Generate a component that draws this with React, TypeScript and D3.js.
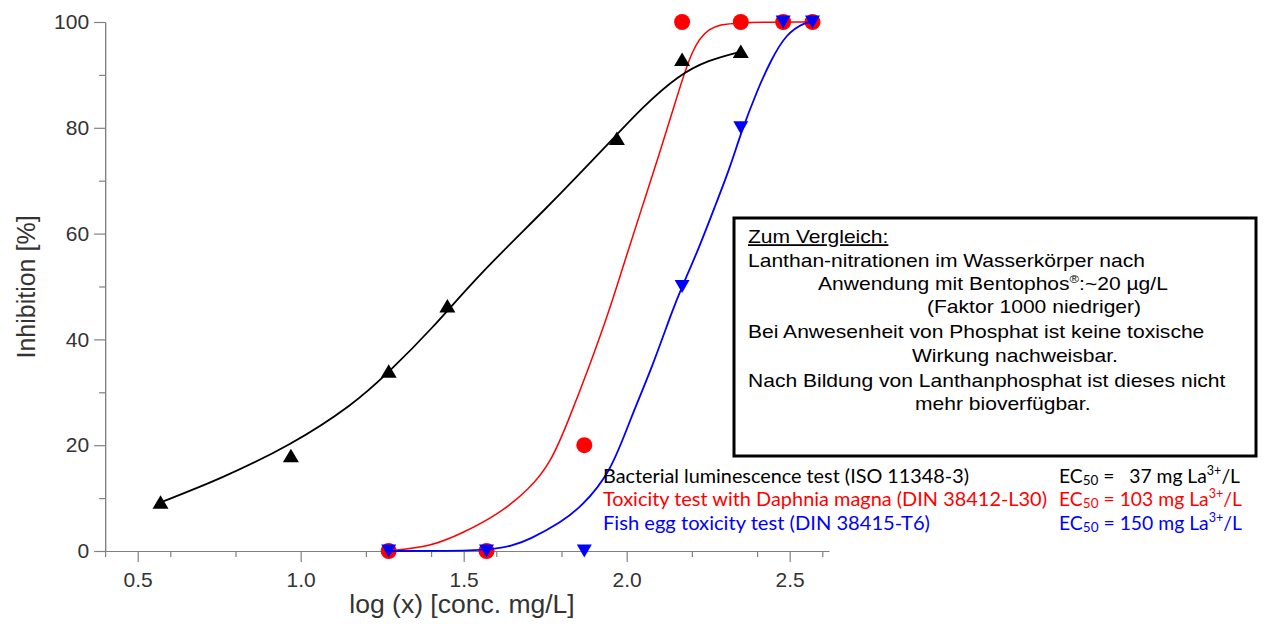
import React, { useEffect, useRef } from 'react';
import * as d3 from 'd3';

// measured points, x = log10(conc. mg/L), y = inhibition %
const bactX = [0.57, 0.97, 1.27, 1.45, 1.97, 2.17, 2.35];
const bactY = [9.2, 18, 34, 46.3, 78, 92.9, 94.4];
const daphX = [1.27, 1.57, 1.87, 2.17, 2.35, 2.48, 2.57];
const daphY = [0, 0, 20, 100, 100, 100, 100];
const fishX = [1.27, 1.57, 1.87, 2.17, 2.35, 2.48, 2.57];
const fishY = [0, 0, 0, 50, 80, 100, 100];

// fitted curves
const bactFitX = [0.57, 0.75, 0.97, 1.16, 1.27, 1.4, 1.55, 1.75, 1.95, 2.05, 2.16, 2.25, 2.35];
const bactFitY = [9.2, 13.5, 20, 27.6, 33.8, 41.8, 52.5, 64.5, 77.4, 84, 90, 92.8, 94.4];
const daphFitX = [1.27, 1.4, 1.5, 1.6, 1.7, 1.77, 1.82, 1.88, 1.95, 2.0, 2.05, 2.1, 2.15, 2.2, 2.25, 2.32, 2.57];
const daphFitY = [0, 0.8, 3.5, 6.7, 11.5, 17, 24.5, 34, 46, 56, 65.5, 75, 85, 95, 99, 100, 100];
const fishFitX = [1.27, 1.57, 1.65, 1.7, 1.8, 1.86, 1.95, 2.01, 2.08, 2.14, 2.17, 2.22, 2.27, 2.32, 2.35, 2.4, 2.44, 2.49, 2.55, 2.57];
const fishFitY = [0, 0, 1, 2.1, 5.5, 8.3, 14.7, 24.8, 35, 45.5, 50, 57, 65, 73, 79, 87, 92.5, 97.9, 100, 100];

const xMajor = [0.5, 1.0, 1.5, 2.0, 2.5];
const xMinor = [0.4, 0.6, 0.8, 1.2, 1.4, 1.6, 1.8, 2.2, 2.4, 2.6];
const yMajor = [0, 20, 40, 60, 80, 100];
const yMinor = [10, 30, 50, 70, 90];

const legendNames = [
  'Bacterial luminescence test (ISO 11348-3)',
  'Toxicity test with Daphnia magna (DIN 38412-L30)',
  'Fish egg toxicity test (DIN 38415-T6)',
];
const legendEC = ['  37', '103', '150'];
const legendColors = ['#000000', '#ff0000', '#0000ff'];
const legendWidths = [366, 444, 327];

const noteLines = [
  'Lanthan-nitrationen im Wasserkörper nach',
  'Anwendung mit Bentophos',
  '(Faktor 1000 niedriger)',
  'Bei Anwesenheit von Phosphat ist keine toxische',
  'Wirkung nachweisbar.',
  'Nach Bildung von Lanthanphosphat ist dieses nicht',
  'mehr bioverfügbar.',
];
const noteLeft = [748, 818, 927, 748, 912, 748, 915];
const noteBase = [266.7, 290, 313.3, 338.3, 361.7, 386.7, 410];

const x = d3.scaleLinear().domain([0.4, 2.62]).range([105.1, 828.8]);
const y = d3.scaleLinear().domain([0, 100]).range([551, 22]);

const line = d3
  .line<[number, number]>()
  .x(d => x(d[0]))
  .y(d => y(d[1]))
  .curve(d3.curveBasis);

const zip = (a: number[], b: number[]) => a.map((v, i) => [v, b[i]] as [number, number]);

const triUp = 'M0,-7L8,6.5L-8,6.5Z';
const triDown = 'M0,6.5L7.5,-6.5L-7.5,-6.5Z';

const FONT = 'Liberation Sans, Arial, sans-serif';

export default function App() {
  const axRef = useRef<SVGGElement>(null);

  useEffect(() => {
    const g = d3.select(axRef.current);
    g.selectAll('*').remove();

    const style = (sel: d3.Selection<any, any, any, any>) => {
      sel.select('.domain').attr('stroke', '#808080').attr('stroke-width', 1.2);
      sel.selectAll('.tick line').attr('stroke', '#808080').attr('stroke-width', 1.2);
      sel.selectAll('.tick text')
        .attr('fill', '#333')
        .style('font-family', FONT)
        .style('font-size', '21px');
    };

    g.append('g')
      .attr('transform', `translate(0,${y(0)})`)
      .call(d3.axisBottom(x).tickValues(xMinor).tickSize(6).tickSizeOuter(0).tickFormat(() => ''))
      .call(style);
    g.append('g')
      .attr('transform', `translate(0,${y(0)})`)
      .call(d3.axisBottom(x).tickValues(xMajor).tickSize(11).tickSizeOuter(0).tickPadding(10).tickFormat(d3.format('.1f')))
      .call(style);
    g.append('g')
      .attr('transform', `translate(${x(0.4)},0)`)
      .call(d3.axisLeft(y).tickValues(yMinor).tickSize(6).tickSizeOuter(0).tickFormat(() => ''))
      .call(style);
    g.append('g')
      .attr('transform', `translate(${x(0.4)},0)`)
      .call(d3.axisLeft(y).tickValues(yMajor).tickSize(11).tickSizeOuter(0).tickPadding(5))
      .call(style);
    g.selectAll('.domain').attr('fill', 'none');
    g.selectAll('text').attr('font-family', null);
  }, []);

  return (
    <svg width={1266} height={624} style={{ position: 'absolute', left: 0, top: 0, background: '#fff' }}>
      <g ref={axRef} />

      {/* axis titles */}
      <text x={462} y={613} textAnchor="middle" fill="#333" fontFamily={FONT} fontSize={26.5}>
        log (x) [conc. mg/L]
      </text>
      <text transform="translate(35,287) rotate(-90)" textAnchor="middle" fill="#333" fontFamily={FONT} fontSize={25}>
        Inhibition [%]
      </text>

      {/* daphnia */}
      {zip(daphX, daphY).map((d, i) => (
        <circle key={'r' + i} cx={x(d[0])} cy={y(d[1])} r={8} fill="#ff0000" />
      ))}
      <path d={line(zip(daphFitX, daphFitY)) || ''} fill="none" stroke="#ff0000" strokeWidth={1.5} />

      {/* fish egg */}
      <path d={line(zip(fishFitX, fishFitY)) || ''} fill="none" stroke="#0000ff" strokeWidth={1.8} />
      {zip(fishX, fishY).map((d, i) => (
        <path key={'b' + i} d={triDown} transform={`translate(${x(d[0])},${y(d[1])})`} fill="#0000ff" />
      ))}

      {/* bacterial */}
      <path d={line(zip(bactFitX, bactFitY)) || ''} fill="none" stroke="#000" strokeWidth={1.8} />
      {zip(bactX, bactY).map((d, i) => (
        <path key={'k' + i} d={triUp} transform={`translate(${x(d[0])},${y(d[1])})`} fill="#000" />
      ))}

      {/* note box */}
      <rect x={734} y={218} width={522} height={238} fill="#fff" stroke="#000" strokeWidth={3} />
      <g transform="translate(748,243.3) scale(1.17,1)">
        <text fontFamily={FONT} fontSize={18} fill="#000" textDecoration="underline">
          Zum Vergleich:
        </text>
      </g>
      {noteLines.map((t, i) => (
        <g key={'n' + i} transform={`translate(${noteLeft[i]},${noteBase[i]}) scale(1.17,1)`}>
          <text fontFamily={FONT} fontSize={18} fill="#000">
            {t}
            {i === 1 && (
              <>
                <tspan fontSize={11} dy={-7}>®</tspan>
                <tspan dy={7}>:~20 µg/L</tspan>
              </>
            )}
          </text>
        </g>
      ))}

      {/* legend */}
      {legendNames.map((t, i) => (
        <g key={'l' + i} fill={legendColors[i]} fontFamily="Lato, sans-serif" fontSize={20}>
          <text x={603} y={482.5 + i * 23.7} textLength={legendWidths[i]} lengthAdjust="spacingAndGlyphs">
            {t}
          </text>
          <text x={1059} y={482.5 + i * 23.7} textLength={i === 0 ? 181 : 183} lengthAdjust="spacingAndGlyphs" style={{ whiteSpace: 'pre' }}>
            EC
            <tspan fontSize={14} dy={2}>50</tspan>
            <tspan dy={-2}>{' = ' + legendEC[i] + ' mg La'}</tspan>
            <tspan fontSize={13} dy={-8}>3+</tspan>
            <tspan dy={8}>/L</tspan>
          </text>
        </g>
      ))}
    </svg>
  );
}
